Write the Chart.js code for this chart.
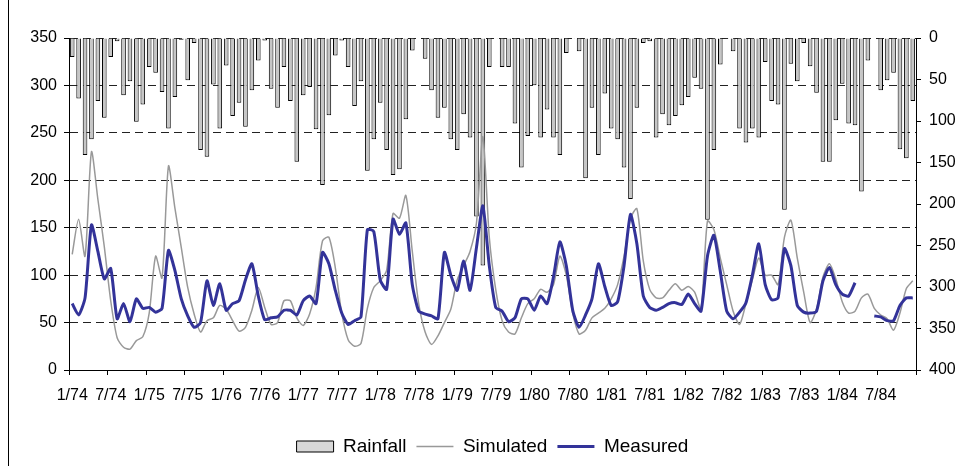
<!DOCTYPE html>
<html>
<head>
<meta charset="utf-8">
<script src="https://cdn.jsdelivr.net/npm/chart.js@4.4.1/dist/chart.umd.min.js"></script>
<style>
  html, body { margin: 0; padding: 0; background: #fff; }
</style>
</head>
<body>
<canvas id="chart" width="965" height="466"></canvas>
<script>
// monthly categories 1/74 .. 12/84
const months = [];
for (let yr = 74; yr <= 84; yr++) {
  for (let m = 1; m <= 12; m++) months.push(m + '/' + yr);
}

// rainfall (right axis, reversed)
const rainfall = [
  23, 73, 141, 122, 76, 96, 23, 4, 69, 52,
  101, 80, 35, 42, 65, 109, 71, 2, 51, 6,
  135, 143, 56, 109, 33, 94, 78, 107, 63, 27,
  3, 61, 84, 35, 76, 149, 69, 59, 110, 177,
  93, 21, 3, 35, 82, 52, 160, 122, 78, 135,
  165, 158, 98, 15, 0, 25, 63, 96, 84, 122,
  135, 92, 120, 215, 274, 35, 1, 35, 35, 103,
  156, 118, 57, 120, 86, 120, 141, 18, 1, 16,
  169, 84, 141, 67, 109, 122, 156, 194, 84, 6,
  4, 120, 92, 105, 94, 81, 71, 48, 61, 219,
  135, 32, 1, 16, 109, 126, 109, 120, 29, 76,
  80, 207, 31, 52, 6, 34, 66, 149, 149, 99,
  55, 103, 105, 185, 27, 0, 63, 51, 42, 134,
  145, 76
];

const simulated = [
  122, 159, 120, 230, 180, 130, 73, 34, 24, 22,
  31, 35, 60, 120, 97, 215, 171, 129, 87, 59,
  40, 52, 55, 68, 64, 52, 41, 45, 63, 87,
  66, 48, 50, 73, 73, 55, 47, 59, 87, 136,
  140, 108, 60, 32, 25, 28, 65, 87, 94, 105,
  165, 160, 184, 125, 70, 40, 27, 36, 50, 64,
  95, 110, 125, 155, 246, 140, 85, 52, 40, 38,
  55, 70, 75, 85, 82, 90, 120, 100, 60, 38,
  42, 55, 60, 65, 75, 90, 120, 160, 170, 115,
  85, 76, 76, 84, 91, 84, 88, 82, 64, 157,
  148, 118, 90, 62, 48, 70, 95, 118, 100, 100,
  90, 140, 158, 118, 82, 50, 64, 98, 112, 96,
  72, 60, 62, 76, 80, 65, 58, 54, 42, 60,
  86, 94
];

const measured = [
  70, 58, 76, 153, 125, 96, 107, 54, 70, 51,
  75, 65, 66, 61, 65, 126, 105, 75, 57, 45,
  50, 94, 68, 91, 63, 70, 73, 95, 112, 78,
  53, 55, 56, 63, 63, 58, 73, 78, 70, 124,
  112, 84, 60, 48, 52, 56, 148, 146, 95, 85,
  159, 143, 155, 90, 62, 59, 57, 54, 124, 100,
  84, 115, 84, 129, 173, 110, 66, 62, 51, 55,
  75, 75, 63, 78, 70, 98, 135, 110, 63, 45,
  58, 75, 112, 88, 68, 72, 110, 164, 133, 78,
  66, 63, 66, 70, 71, 69, 80, 70, 62, 120,
  142, 104, 62, 54, 61, 71, 100, 133, 90, 74,
  76, 128, 110, 68, 61, 60, 62, 94, 108, 90,
  80, 78, 92, null, null, 57, 56, 52, 52, 68,
  76, 76
];

const FONT = 'Liberation Sans, Arial, sans-serif';

const frame = {
  id: 'frame',
  afterLayout(chart) {
    const lg = chart.legend;
    lg.left += 10;
    lg.right += 10;
  },
  afterDraw(chart) {
    const ctx = chart.ctx;
    ctx.save();
    ctx.strokeStyle = '#000';
    ctx.lineWidth = 1;
    ctx.beginPath();
    ctx.moveTo(8.5, 0);
    ctx.lineTo(8.5, 466);
    ctx.stroke();
    ctx.restore();
  }
};

new Chart(document.getElementById('chart'), {
  data: {
    labels: months,
    datasets: [
      {
        type: 'bar',
        label: 'Rainfall',
        data: rainfall,
        yAxisID: 'y2',
        backgroundColor: '#c6c6c6',
        borderColor: '#000',
        borderWidth: 1,
        barPercentage: 0.72,
        categoryPercentage: 1,
        order: 3
      },
      {
        type: 'line',
        label: 'Simulated',
        data: simulated,
        yAxisID: 'y',
        borderColor: '#999999',
        borderWidth: 1.5,
        pointRadius: 0,
        tension: 0.25,
        order: 2
      },
      {
        type: 'line',
        label: 'Measured',
        data: measured,
        yAxisID: 'y',
        borderColor: '#333399',
        borderWidth: 3,
        pointRadius: 0,
        tension: 0.2,
        spanGaps: false,
        order: 1
      }
    ]
  },
  options: {
    responsive: false,
    animation: false,
    devicePixelRatio: 1,
    events: [],
    layout: { padding: { top: 38, left: 0, right: 0, bottom: 0 } },
    scales: {
      x: {
        type: 'category',
        offset: true,
        grid: {
          offset: true,
          drawOnChartArea: false,
          tickLength: 5,
          color: ctx => (ctx.index === undefined || ctx.index % 6 === 0) ? '#000' : 'rgba(0,0,0,0)'
        },
        border: { color: '#000', width: 1 },
        ticks: {
          autoSkip: false,
          maxRotation: 0,
          minRotation: 0,
          padding: 11,
          color: '#000',
          font: { family: FONT, size: 16 },
          callback: (v, i) => (i % 6 === 0 ? months[i] : '')
        },
        afterFit: s => { s.height = 57; }
      },
      y: {
        position: 'left',
        min: 0,
        max: 350,
        ticks: { stepSize: 50, padding: 7, color: '#000', font: { family: FONT, size: 16 } },
        grid: {
          color: ctx => (ctx.tick && ctx.tick.value === 0 ? 'rgba(0,0,0,0)' : '#222'),
          tickColor: '#000',
          tickLength: 5
        },
        border: { color: '#000', width: 1, dash: [8, 5] },
        afterFit: s => { s.width = 69; }
      },
      y2: {
        position: 'right',
        reverse: true,
        min: 0,
        max: 400,
        ticks: { stepSize: 50, padding: 8, color: '#000', font: { family: FONT, size: 16 } },
        grid: { drawOnChartArea: false, color: '#000', tickLength: 5 },
        border: { color: '#000', width: 1 },
        afterFit: s => { s.width = 49; }
      }
    },
    plugins: {
      title: { display: false },
      tooltip: { enabled: false },
      legend: {
        position: 'bottom',
        labels: {
          usePointStyle: true,
          pointStyleWidth: 37,
          boxHeight: 11,
          padding: 10,
          color: '#000',
          font: { family: FONT, size: 19 },
          generateLabels: chart => {
            const items = Chart.defaults.plugins.legend.labels.generateLabels(chart);
            items.sort((a, b) => a.datasetIndex - b.datasetIndex);
            return items.map(it => {
              const ds = chart.data.datasets[it.datasetIndex];
              const isBar = it.datasetIndex === 0;
              it.pointStyle = isBar ? 'rect' : 'line';
              it.fillStyle = isBar ? '#d8d8d8' : ds.borderColor;
              it.strokeStyle = isBar ? '#000' : ds.borderColor;
              it.lineWidth = isBar ? 1 : ds.borderWidth;
              return it;
            });
          }
        }
      }
    }
  },
  plugins: [frame]
});
</script>
</body>
</html>
